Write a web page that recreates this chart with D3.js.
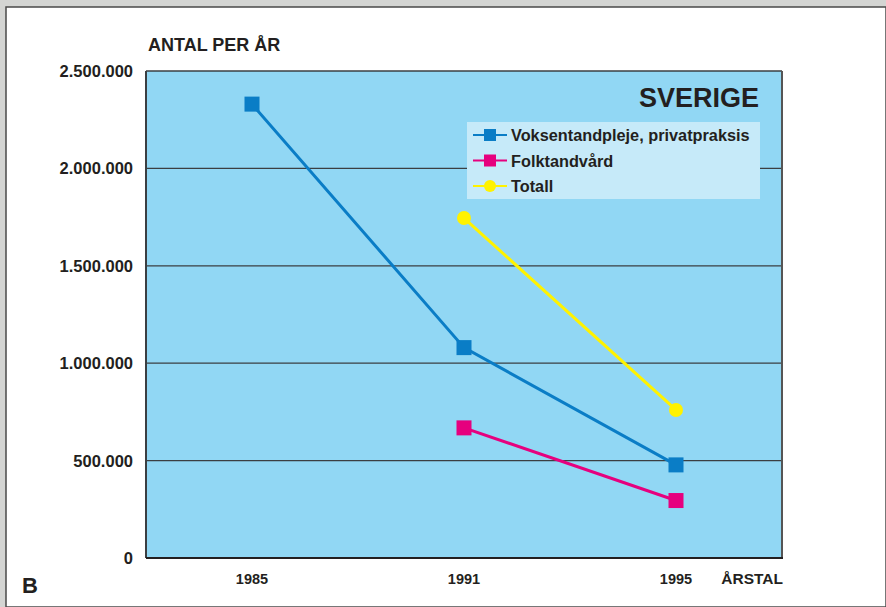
<!DOCTYPE html>
<html>
<head>
<meta charset="utf-8">
<script src="https://cdn.jsdelivr.net/npm/d3@7"></script>
<style>
  body { margin: 0; background: #fff; }
  svg text { font-family: "Liberation Sans", Arial, sans-serif; font-weight: bold; fill: #231f20; }
</style>
</head>
<body>
<script>
// data
var years = ["1985", "1991", "1995"];
var voksenValues = [2330000, 1080000, 478000];
var folkValues = [null, 668000, 295000];
var totallValues = [null, 1745000, 760000];
var yTicks = [0, 500000, 1000000, 1500000, 2000000, 2500000];
var tickLabels = ["0", "500.000", "1.000.000", "1.500.000", "2.000.000", "2.500.000"];

var series = [
  { name: "Voksentandpleje, privatpraksis", values: voksenValues, color: "#0a7dc6", shape: "square" },
  { name: "Folktandvård", values: folkValues, color: "#e6007e", shape: "square" },
  { name: "Totall", values: totallValues, color: "#fff200", shape: "circle" }
];

var W = 886, H = 607;
var plot = { left: 146, right: 782, top: 71, bottom: 558 };

var svg = d3.select("body").append("svg")
            .attr("width", W)
            .attr("height", H);

// page frame
svg.append("rect").attr("x", 0).attr("y", 0).attr("width", W).attr("height", H).attr("fill", "#d4d5d3");
svg.append("rect").attr("x", 6).attr("y", 7).attr("width", W - 6).attr("height", H - 7)
   .attr("fill", "#fff").attr("stroke", "#4a4a4a").attr("stroke-width", 1.5);

var x = d3.scalePoint().domain(years).range([plot.left, plot.right]).padding(0.5);
var y = d3.scaleLinear().domain([0, 2500000]).range([plot.bottom, plot.top]);

// plot background
svg.append("rect")
   .attr("x", plot.left).attr("y", plot.top)
   .attr("width", plot.right - plot.left).attr("height", plot.bottom - plot.top)
   .attr("fill", "#91d7f4");

// gridlines
svg.selectAll(".grid").data(yTicks.filter(function(d){ return d > 0; }))
   .enter().append("line")
   .attr("class", "grid")
   .attr("x1", plot.left).attr("x2", plot.right)
   .attr("y1", function(d){ return y(d); }).attr("y2", function(d){ return y(d); })
   .attr("stroke", "#3b3f42").attr("stroke-width", 1.3);

// frame of plot
svg.append("line").attr("x1", plot.left).attr("x2", plot.left).attr("y1", plot.top).attr("y2", plot.bottom)
   .attr("stroke", "#3b3f42").attr("stroke-width", 2);
svg.append("line").attr("x1", plot.right).attr("x2", plot.right).attr("y1", plot.top).attr("y2", plot.bottom)
   .attr("stroke", "#555").attr("stroke-width", 2);
svg.append("line").attr("x1", plot.left).attr("x2", plot.right + 1).attr("y1", plot.bottom).attr("y2", plot.bottom)
   .attr("stroke", "#231f20").attr("stroke-width", 2);

// y tick labels
svg.selectAll(".ytick").data(yTicks)
   .enter().append("text")
   .attr("class", "ytick")
   .attr("x", 133)
   .attr("y", function(d){ return y(d) + 6; })
   .attr("text-anchor", "end")
   .style("font-size", "16.5px")
   .text(function(d, i){ return tickLabels[i]; });

// x tick labels
svg.selectAll(".xtick").data(years)
   .enter().append("text")
   .attr("class", "xtick")
   .attr("x", function(d){ return x(d); })
   .attr("y", 584)
   .attr("text-anchor", "middle")
   .style("font-size", "14.5px")
   .text(function(d){ return d; });

svg.append("text").attr("x", 783).attr("y", 584).attr("text-anchor", "end")
   .style("font-size", "15.5px").text("ÅRSTAL");
svg.append("text").attr("x", 148).attr("y", 51)
   .style("font-size", "18px").text("ANTAL PER ÅR");
svg.append("text").attr("x", 22).attr("y", 593)
   .style("font-size", "22px").text("B");

// title
svg.append("text").attr("x", 759).attr("y", 107).attr("text-anchor", "end")
   .style("font-size", "27px").text("SVERIGE");

// lines
var line = d3.line()
             .defined(function(d){ return d.v != null; })
             .x(function(d){ return x(d.year); })
             .y(function(d){ return y(d.v); });

series.forEach(function(s){
  var pts = years.map(function(yr, i){ return { year: yr, v: s.values[i] }; });
  svg.append("path").datum(pts)
     .attr("d", line)
     .attr("fill", "none")
     .attr("stroke", s.color)
     .attr("stroke-width", 3);

  var valid = pts.filter(function(d){ return d.v != null; });
  if (s.shape === "square") {
    svg.selectAll(null).data(valid).enter().append("rect")
       .attr("x", function(d){ return x(d.year) - 7.5; })
       .attr("y", function(d){ return y(d.v) - 7.5; })
       .attr("width", 15).attr("height", 15)
       .attr("fill", s.color);
  } else {
    svg.selectAll(null).data(valid).enter().append("circle")
       .attr("cx", function(d){ return x(d.year); })
       .attr("cy", function(d){ return y(d.v); })
       .attr("r", 7)
       .attr("fill", s.color);
  }
});

// legend
var legend = svg.append("g").attr("transform", "translate(467,122)");
legend.append("rect").attr("width", 293).attr("height", 77).attr("fill", "#c6eaf9");
series.forEach(function(s, i){
  var ly = 13 + i * 25.5;
  legend.append("line").attr("x1", 6).attr("x2", 40).attr("y1", ly).attr("y2", ly)
        .attr("stroke", s.color).attr("stroke-width", 2);
  if (s.shape === "square") {
    legend.append("rect").attr("x", 17).attr("y", ly - 6).attr("width", 12).attr("height", 12).attr("fill", s.color);
  } else {
    legend.append("circle").attr("cx", 23).attr("cy", ly).attr("r", 6).attr("fill", s.color);
  }
  legend.append("text").attr("x", 44).attr("y", ly + 6)
        .style("font-size", "16.3px").text(s.name);
});
</script>
</body>
</html>
